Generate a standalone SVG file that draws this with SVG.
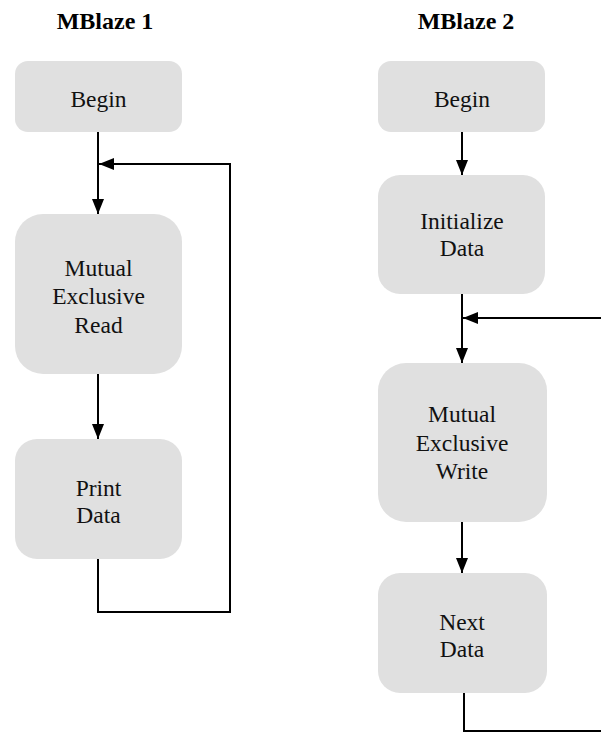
<svg xmlns="http://www.w3.org/2000/svg" width="601" height="733" viewBox="0 0 601 733">
<style>
.box{fill:#e0e0e0;stroke:none}
.lbl{font-family:"Liberation Serif","Times New Roman",serif;font-size:23.5px;fill:#111;text-anchor:middle}
.ttl{font-family:"Liberation Serif","Times New Roman",serif;font-size:24px;font-weight:bold;fill:#000;text-anchor:middle}
.ln{fill:none;stroke:#000;stroke-width:2}
</style>
<defs>
<marker id="ah" markerUnits="userSpaceOnUse" markerWidth="16" markerHeight="12" refX="15" refY="6" orient="auto">
<path d="M0,0 L15,6 L0,12 Z" fill="#000"/>
</marker>
</defs>
<rect width="601" height="733" fill="#fff"/>
<text class="ttl" x="105" y="29">MBlaze 1</text>
<text class="ttl" x="466" y="29">MBlaze 2</text>
<g id="connectors">
<line class="ln" x1="98" y1="132" x2="98" y2="214" marker-end="url(#ah)"/>
<polyline class="ln" points="98,559 98,612 230,612 230,164 99,164" marker-end="url(#ah)"/>
<line class="ln" x1="98" y1="374" x2="98" y2="439" marker-end="url(#ah)"/>
<line class="ln" x1="462" y1="132" x2="462" y2="175" marker-end="url(#ah)"/>
<line class="ln" x1="462" y1="294" x2="462" y2="363" marker-end="url(#ah)"/>
<line class="ln" x1="601" y1="318" x2="463" y2="318" marker-end="url(#ah)"/>
<line class="ln" x1="462" y1="522" x2="462" y2="573" marker-end="url(#ah)"/>
<polyline class="ln" points="464,693 464,731 601,731"/>
</g>
<g id="begin1">
<rect class="box" x="15" y="61" width="167" height="71" rx="13"/>
<text class="lbl" x="98.5" y="107">Begin</text>
</g>
<g id="read1">
<rect class="box" x="15" y="214" width="167" height="160" rx="28"/>
<text class="lbl" x="98.5" y="276">Mutual</text>
<text class="lbl" x="98.5" y="304">Exclusive</text>
<text class="lbl" x="98.5" y="333">Read</text>
</g>
<g id="print1">
<rect class="box" x="15" y="439" width="167" height="120" rx="22"/>
<text class="lbl" x="98.5" y="496">Print</text>
<text class="lbl" x="98.5" y="523">Data</text>
</g>
<g id="begin2">
<rect class="box" x="378" y="61" width="167" height="71" rx="13"/>
<text class="lbl" x="462" y="107">Begin</text>
</g>
<g id="init2">
<rect class="box" x="378" y="175" width="167" height="119" rx="22"/>
<text class="lbl" x="462" y="229">Initialize</text>
<text class="lbl" x="462" y="256">Data</text>
</g>
<g id="write2">
<rect class="box" x="378" y="363" width="169" height="159" rx="28"/>
<text class="lbl" x="462" y="422">Mutual</text>
<text class="lbl" x="462" y="451">Exclusive</text>
<text class="lbl" x="462" y="479">Write</text>
</g>
<g id="next2">
<rect class="box" x="378" y="573" width="169" height="120" rx="22"/>
<text class="lbl" x="462" y="630">Next</text>
<text class="lbl" x="462" y="657">Data</text>
</g>
</svg>
